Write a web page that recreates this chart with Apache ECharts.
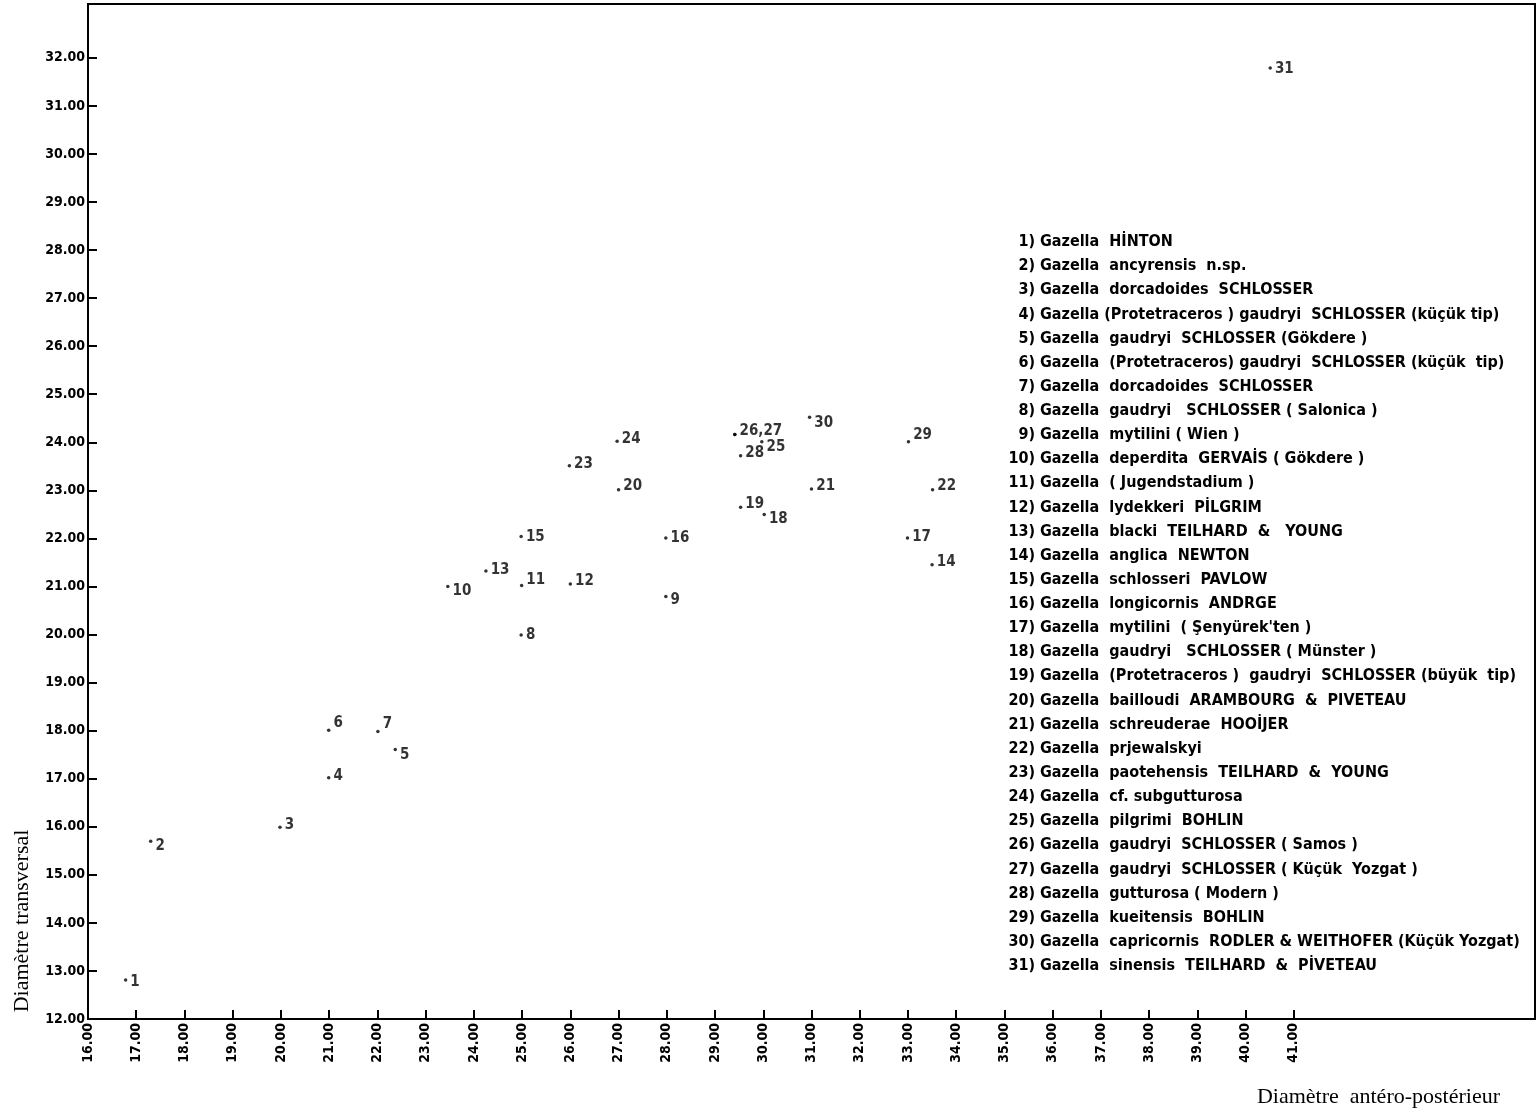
<!DOCTYPE html>
<html>
<head>
<meta charset="utf-8">
<script src="https://cdn.jsdelivr.net/npm/echarts@6/dist/echarts.min.js"></script>
<style>
  html, body { margin: 0; padding: 0; background: #fff; }
  #chart { width: 1540px; height: 1120px; }
</style>
</head>
<body>
<div id="chart"></div>
<script>
// ---- data ----
const pointIds = [1,2,3,4,5,6,7,8,9,10,11,12,13,14,15,16,17,18,19,20,21,22,23,24,25,26,27,28,29,30,31];
const xValues = [16.78,17.30,19.98,20.99,22.37,20.99,22.01,24.98,27.98,23.46,24.99,26.00,24.25,33.50,24.98,27.98,32.99,30.02,29.53,27.00,31.00,33.51,25.98,26.97,29.97,29.41,29.41,29.53,33.01,30.96,40.51];
const yValues = [12.81,15.70,15.99,17.02,17.61,18.01,17.98,19.99,20.79,21.00,21.02,21.05,21.32,21.45,22.04,22.01,22.01,22.50,22.65,23.01,23.03,23.01,23.51,24.02,24.01,24.16,24.16,23.72,24.01,24.52,31.79];
const pointLabels = ["1","2","3","4","5","6","7","8","9","10","11","12","13","14","15","16","17","18","19","20","21","22","23","24","25","26,27","","28","29","30","31"];
const xTicks = [16,17,18,19,20,21,22,23,24,25,26,27,28,29,30,31,32,33,34,35,36,37,38,39,40,41];
const yTicks = [12,13,14,15,16,17,18,19,20,21,22,23,24,25,26,27,28,29,30,31,32];
const legendNumbers = ["1)","2)","3)","4)","5)","6)","7)","8)","9)","10)","11)","12)","13)","14)","15)","16)","17)","18)","19)","20)","21)","22)","23)","24)","25)","26)","27)","28)","29)","30)","31)"];
const legendNames = [
  "Gazella  HİNTON",
  "Gazella  ancyrensis  n.sp.",
  "Gazella  dorcadoides  SCHLOSSER",
  "Gazella (Protetraceros ) gaudryi  SCHLOSSER (küçük tip)",
  "Gazella  gaudryi  SCHLOSSER (Gökdere )",
  "Gazella  (Protetraceros) gaudryi  SCHLOSSER (küçük  tip)",
  "Gazella  dorcadoides  SCHLOSSER",
  "Gazella  gaudryi   SCHLOSSER ( Salonica )",
  "Gazella  mytilini ( Wien )",
  "Gazella  deperdita  GERVAİS ( Gökdere )",
  "Gazella  ( Jugendstadium )",
  "Gazella  lydekkeri  PİLGRIM",
  "Gazella  blacki  TEILHARD  &   YOUNG",
  "Gazella  anglica  NEWTON",
  "Gazella  schlosseri  PAVLOW",
  "Gazella  longicornis  ANDRGE",
  "Gazella  mytilini  ( Şenyürek'ten )",
  "Gazella  gaudryi   SCHLOSSER ( Münster )",
  "Gazella  (Protetraceros )  gaudryi  SCHLOSSER (büyük  tip)",
  "Gazella  bailloudi  ARAMBOURG  &  PIVETEAU",
  "Gazella  schreuderae  HOOİJER",
  "Gazella  prjewalskyi",
  "Gazella  paotehensis  TEILHARD  &  YOUNG",
  "Gazella  cf. subgutturosa",
  "Gazella  pilgrimi  BOHLIN",
  "Gazella  gaudryi  SCHLOSSER ( Samos )",
  "Gazella  gaudryi  SCHLOSSER ( Küçük  Yozgat )",
  "Gazella  gutturosa ( Modern )",
  "Gazella  kueitensis  BOHLIN",
  "Gazella  capricornis  RODLER & WEITHOFER (Küçük Yozgat)",
  "Gazella  sinensis  TEILHARD  &  PİVETEAU"
];
const xAxisTitle = "Diamètre  antéro-postérieur";
const yAxisTitle = "Diamètre transversal";

// ---- style ----
const labelDy = [2,5,-2,-2,6,-7,-7,0,4,5,-5,-3,-1,-3,1,0,-1,5,-3,-4,-3,-4,-2,-2,5,-3,0,-3,-7,6,1];
const SANS = "'DejaVu Sans Condensed', 'Liberation Sans Narrow', 'DejaVu Sans', sans-serif";
const SERIF = "'Liberation Serif', 'DejaVu Serif', serif";

const chart = echarts.init(document.getElementById('chart'), null, { renderer: 'canvas' });

const seriesData = pointIds.map((id, i) => ({
  value: [xValues[i], yValues[i]],
  name: pointLabels[i],
  label: { offset: [0, labelDy[i]] }
}));

const legendGraphics = [];
legendNames.forEach((nm, i) => {
  const y = 242 + i * 24.13;
  legendGraphics.push({
    type: 'text', x: 1035, y: y,
    style: { text: legendNumbers[i], textAlign: 'right', textVerticalAlign: 'middle',
             font: 'bold 16px ' + SANS, fill: '#000' }
  });
  legendGraphics.push({
    type: 'text', x: 1040, y: y,
    style: { text: nm, textAlign: 'left', textVerticalAlign: 'middle',
             font: 'bold 16px ' + SANS, fill: '#000' }
  });
});

const option = {
  backgroundColor: '#fff',
  animation: false,
  grid: { left: 88, right: 5, top: 4, bottom: 101, show: true, borderColor: '#000', borderWidth: 2, backgroundColor: 'transparent' },
  xAxis: {
    type: 'value', min: 16, max: 46, interval: 1,
    axisLine: { show: true, onZero: false, lineStyle: { color: '#000', width: 2 } },
    axisTick: { show: true, inside: true, length: 9, customValues: xTicks, lineStyle: { color: '#000', width: 2 } },
    axisLabel: { show: true, rotate: 90, margin: 4, customValues: xTicks,
      formatter: v => v.toFixed(2), fontFamily: SANS, fontWeight: 'bold', fontSize: 14, color: '#000' },
    splitLine: { show: false }
  },
  yAxis: {
    type: 'value', min: 12, max: 33.12, interval: 1,
    axisLine: { show: true, onZero: false, lineStyle: { color: '#000', width: 2 } },
    axisTick: { show: true, inside: true, length: 9, customValues: yTicks, lineStyle: { color: '#000', width: 2 } },
    axisLabel: { show: true, margin: 3, customValues: yTicks,
      formatter: v => v.toFixed(2), fontFamily: SANS, fontWeight: 'bold', fontSize: 14, color: '#000' },
    splitLine: { show: false }
  },
  series: [{
    type: 'scatter',
    symbol: 'circle',
    symbolSize: 3.5,
    itemStyle: { color: '#000' },
    label: { show: true, position: 'right', distance: 3, formatter: p => p.name,
      fontFamily: SANS, fontWeight: 'bold', fontSize: 15, color: '#000' },
    data: seriesData
  }],
  graphic: [
    { type: 'text', x: 22, y: 921, rotation: Math.PI / 2,
      style: { text: yAxisTitle, textAlign: 'center', textVerticalAlign: 'middle', font: '22px ' + SERIF, fill: '#000' } },
    { type: 'text', x: 1500, y: 1097,
      style: { text: xAxisTitle, textAlign: 'right', textVerticalAlign: 'middle', font: '22px ' + SERIF, fill: '#000' } }
  ].concat(legendGraphics)
};

chart.setOption(option);
</script>
</body>
</html>
